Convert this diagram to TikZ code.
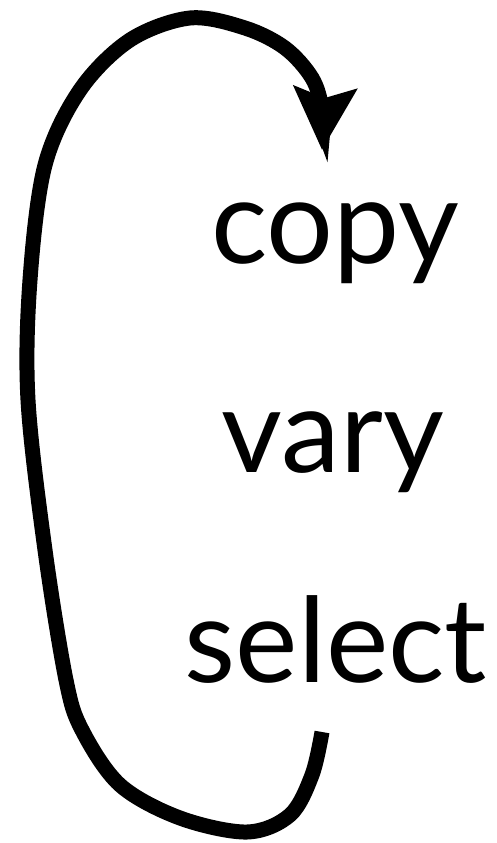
\documentclass[tikz,border=0pt]{standalone}
\usepackage{fontspec}
\setmainfont{Lato}
\usetikzlibrary{arrows.meta}
\tikzset{
  word/.style={anchor=base, inner sep=0pt, font=\fontsize{118}{130}\selectfont},
  loop/.style={line width=15pt, -{Stealth[length=62pt, width=62pt, inset=10pt]}}
}
\begin{document}
\begin{tikzpicture}[x=1pt,y=-1pt]
\useasboundingbox (0,0) rectangle (496,843);
\node[word] (copy) at (335,263) {copy};
\node[word] (vary) at (333,472) {vary};
\node[word] (select) at (336,682) {select};
\coordinate (start) at (322,732);
\coordinate (tip) at (322,150);
\draw[loop] plot[smooth, tension=0.55] coordinates {
  (322,732) (312,775) (290,815) (247,832) (180,818) (120,785) (82,730)
  (66,680) (45,550) (28,400) (30,280) (45,165) (80,90) (130,40) (190,18)
  (245,28) (285,48) (312,78) (322,110) (322,150)};
\end{tikzpicture}
\end{document}
